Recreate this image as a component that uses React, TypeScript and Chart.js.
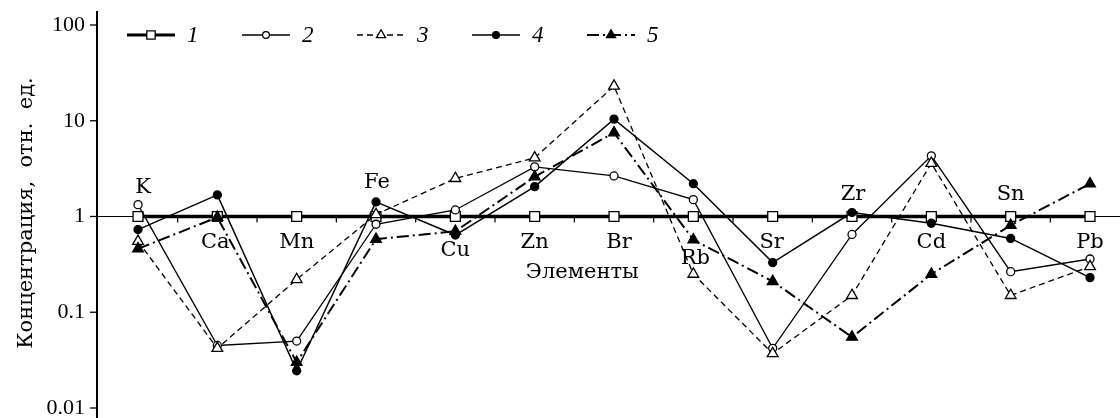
import React, { useEffect, useRef } from "react";
import { Chart, registerables } from "chart.js";

Chart.register(...registerables);

// ---------- data ----------
const elements = ["K", "Ca", "Mn", "Fe", "Cu", "Zn", "Br", "Rb", "Sr", "Zr", "Cd", "Sn", "Pb"];
const series1 = [1, 1, 1, 1, 1, 1, 1, 1, 1, 1, 1, 1, 1];
const series2 = [1.33, 0.045, 0.05, 0.83, 1.17, 3.3, 2.65, 1.5, 0.042, 0.65, 4.3, 0.265, 0.36];
const series3 = [0.55, 0.042, 0.22, 1.05, 2.5, 4.1, 23, 0.25, 0.037, 0.15, 3.6, 0.15, 0.3];
const series4 = [0.73, 1.68, 0.0245, 1.42, 0.64, 2.05, 10.4, 2.2, 0.33, 1.1, 0.85, 0.59, 0.23];
const series5 = [0.46, 0.98, 0.03, 0.58, 0.7, 2.6, 7.5, 0.57, 0.21, 0.055, 0.25, 0.81, 2.2];
const seriesNames = ["1", "2", "3", "4", "5"];
const yTickValues = [100, 10, 1, 0.1, 0.01];
const yTickLabels = ["100", "10", "1", "0.1", "0.01"];
const xAxisTitle = "Элементы";
const yAxisTitle = "Концентрация,  отн.  ед.";

// ---------- styles ----------
const TEXT_FONT = '21px "DejaVu Serif"';
const NUM_FONT = '22px "Liberation Serif"';
const LEGEND_FONT = 'italic 23px "Liberation Serif"';

// placement of element names relative to their category and the y=1 line (pixels)
const labelPlacement = [
  { dx: 5, dy: -29 },
  { dx: -2, dy: 26 },
  { dx: 0, dy: 26 },
  { dx: 1, dy: -34 },
  { dx: 0, dy: 34 },
  { dx: 0, dy: 26 },
  { dx: 5, dy: 26 },
  { dx: 2, dy: 42 },
  { dx: -1, dy: 26 },
  { dx: 1, dy: -22 },
  { dx: 0, dy: 26 },
  { dx: 0, dy: -22 },
  { dx: 0, dy: 26 },
];

type Style = {
  width: number;
  dash: number[];
  point: "rect" | "circle" | "triangle";
  radius: number;
  fill: string;
};

const styles: Style[] = [
  { width: 3.5, dash: [], point: "rect", radius: 7, fill: "#ffffff" },
  { width: 1.3, dash: [], point: "circle", radius: 4, fill: "#ffffff" },
  { width: 1.3, dash: [6, 4], point: "triangle", radius: 6.2, fill: "#ffffff" },
  { width: 1.5, dash: [], point: "circle", radius: 4, fill: "#000000" },
  { width: 2, dash: [12, 4, 2, 4], point: "triangle", radius: 6.2, fill: "#000000" },
];

const allSeries = [series1, series2, series3, series4, series5];

function drawMarker(ctx: CanvasRenderingContext2D, st: Style, x: number, y: number, scale: number) {
  ctx.save();
  ctx.setLineDash([]);
  ctx.lineWidth = 1.3;
  ctx.strokeStyle = "#000";
  ctx.fillStyle = st.fill;
  ctx.beginPath();
  const r = st.radius * scale;
  if (st.point === "rect") {
    const s = r * Math.SQRT1_2;
    ctx.rect(x - s, y - s, 2 * s, 2 * s);
  } else if (st.point === "circle") {
    ctx.arc(x, y, r, 0, Math.PI * 2);
  } else {
    ctx.moveTo(x, y - r);
    ctx.lineTo(x + r * Math.sin((2 * Math.PI) / 3), y - r * Math.cos((2 * Math.PI) / 3));
    ctx.lineTo(x + r * Math.sin((4 * Math.PI) / 3), y - r * Math.cos((4 * Math.PI) / 3));
    ctx.closePath();
  }
  ctx.fill();
  ctx.stroke();
  ctx.restore();
}

const decorPlugin = {
  id: "decor",
  beforeDatasetsDraw(chart: any) {
    const ctx: CanvasRenderingContext2D = chart.ctx;
    const xs = chart.scales.x;
    const ys = chart.scales.y;
    const area = chart.chartArea;
    const y1 = ys.getPixelForValue(1);
    ctx.save();
    ctx.strokeStyle = "#000";
    ctx.fillStyle = "#000";
    // y axis
    ctx.lineWidth = 2;
    ctx.beginPath();
    ctx.moveTo(area.left, area.top - 14);
    ctx.lineTo(area.left, chart.height);
    ctx.stroke();
    ctx.lineWidth = 1.3;
    ctx.font = NUM_FONT;
    ctx.textAlign = "right";
    ctx.textBaseline = "middle";
    yTickValues.forEach((v, i) => {
      const py = ys.getPixelForValue(v);
      ctx.beginPath();
      ctx.moveTo(area.left - 7, py);
      ctx.lineTo(area.left, py);
      ctx.stroke();
      ctx.fillText(yTickLabels[i], area.left - 12, py);
    });
    // x axis at y = 1
    ctx.lineWidth = 1.2;
    ctx.beginPath();
    ctx.moveTo(area.left, y1);
    ctx.lineTo(area.right, y1);
    ctx.stroke();
    for (let i = 0; i < elements.length - 1; i++) {
      const px = xs.getPixelForValue(i + 0.5);
      ctx.beginPath();
      ctx.moveTo(px, y1);
      ctx.lineTo(px, y1 + 6);
      ctx.stroke();
    }
    // y title
    ctx.save();
    ctx.translate(27, 213);
    ctx.rotate(-Math.PI / 2);
    ctx.font = TEXT_FONT;
    ctx.textAlign = "center";
    ctx.textBaseline = "middle";
    ctx.fillText(yAxisTitle, 0, 0);
    ctx.restore();
    ctx.restore();
  },
  afterDatasetsDraw(chart: any) {
    const ctx: CanvasRenderingContext2D = chart.ctx;
    const xs = chart.scales.x;
    const ys = chart.scales.y;
    const y1 = ys.getPixelForValue(1);
    ctx.save();
    ctx.fillStyle = "#000";
    ctx.font = TEXT_FONT;
    ctx.textAlign = "center";
    ctx.textBaseline = "middle";
    elements.forEach((el, i) => {
      const p = labelPlacement[i];
      ctx.fillText(el, xs.getPixelForValue(i) + p.dx, y1 + p.dy);
    });
    ctx.fillText(xAxisTitle, xs.getPixelForValue(5.6), y1 + 56);
    // legend
    const ly = 35;
    seriesNames.forEach((name, i) => {
      const st = styles[i];
      const x0 = 127 + 115 * i;
      ctx.save();
      ctx.strokeStyle = "#000";
      ctx.lineWidth = i === 0 ? 3 : st.width;
      ctx.setLineDash(st.dash);
      ctx.beginPath();
      ctx.moveTo(x0, ly);
      ctx.lineTo(x0 + 48, ly);
      ctx.stroke();
      ctx.restore();
      drawMarker(ctx, st, x0 + 24, ly, 0.85);
      ctx.font = LEGEND_FONT;
      ctx.textAlign = "left";
      ctx.fillText(name, x0 + 60, ly + 1);
    });
    ctx.restore();
  },
};

export default function App() {
  const ref = useRef<HTMLCanvasElement | null>(null);
  useEffect(() => {
    if (!ref.current) return;
    const datasets = allSeries.map((s, i) => {
      const st = styles[i];
      return {
        label: seriesNames[i],
        data: s.map((v, j) => ({ x: j, y: v })),
        borderColor: "#000",
        borderWidth: st.width,
        borderDash: st.dash,
        pointStyle: st.point,
        pointRadius: st.radius,
        pointBackgroundColor: st.fill,
        pointBorderColor: "#000",
        pointBorderWidth: 1.3,
        tension: 0,
        fill: false,
        order: 5 - i,
        clip: false as any,
      };
    });
    const chart = new Chart(ref.current, {
      type: "line",
      data: { datasets },
      options: {
        animation: false,
        responsive: false,
        devicePixelRatio: 1,
        layout: { autoPadding: false, padding: { left: 97, right: 0, top: 25, bottom: 10 } },
        plugins: { legend: { display: false }, tooltip: { enabled: false } },
        scales: {
          x: { type: "linear", min: -0.517, max: 12.378, display: false },
          y: { type: "logarithmic", min: 0.01, max: 100, display: false },
        },
      },
      plugins: [decorPlugin],
    });
    return () => chart.destroy();
  }, []);
  return (
    <div style={{ position: "absolute", left: 0, top: 0, width: 1120, height: 418, background: "#fff" }}>
      <canvas ref={ref} width={1120} height={418} />
    </div>
  );
}
